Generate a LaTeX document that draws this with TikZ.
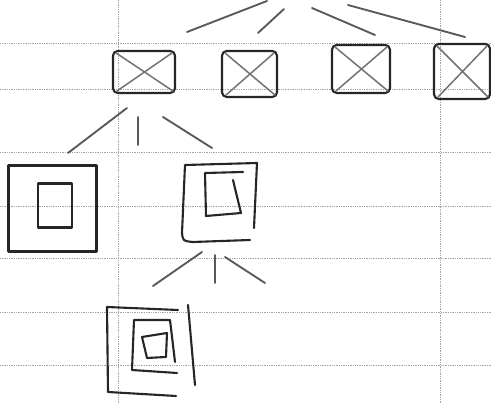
\documentclass[tikz,border=0pt]{standalone}
\usepackage{tikz}
\usetikzlibrary{positioning, calc}
\newcommand{\px}{0.03cm}
\tikzset{
  pen/.style={draw=black!85, line width=1.8pt, line cap=round, line join=round},
  xbox/.style={pen, rounded corners=4pt, inner sep=0pt},
  sqbox/.style={pen, inner sep=0pt},
  cross/.style={draw=black!55, line width=1.3pt, line cap=round},
  edge/.style={draw=black!65, line width=1.6pt, line cap=round},
  gridline/.style={draw=black!35, densely dotted, line width=0.5pt},
  every node/.style={font=\small}
}

\begin{document}
\begin{tikzpicture}[x=\px, y=-\px]
    \useasboundingbox (0,0) rectangle (491,404);
    % graph paper
    \foreach \gy in {43,89,152,206,258,312,365}
        \draw[gridline] (0,\gy) -- (491,\gy);
    \foreach \gx in {118,440}
        \draw[gridline] (\gx,0) -- (\gx,404);

    % first row: crossed boxes
    \node[xbox, minimum width=62*\px, minimum height=42*\px] (x1) at (144,72) {};
    \node[xbox, minimum width=55*\px, minimum height=46*\px] (x2) at (249.5,74) {};
    \node[xbox, minimum width=58*\px, minimum height=48*\px] (x3) at (361,69) {};
    \node[xbox, minimum width=56*\px, minimum height=55*\px] (x4) at (462,71.5) {};
    \foreach \b in {x1,x2,x3,x4} {
        \draw[cross] ($(\b.north west)+(4,3)$) -- ($(\b.south east)+(-3,-3)$);
        \draw[cross] ($(\b.north east)+(-4,3)$) -- ($(\b.south west)+(5,-3)$);
    }

    % strokes from the top
    \coordinate (r1s) at (267,1);   \coordinate (r1e) at (187,32);
    \coordinate (r2s) at (284,9);   \coordinate (r2e) at (258,33);
    \coordinate (r3s) at (312,8);   \coordinate (r3e) at (375,35);
    \coordinate (r4s) at (348,5);   \coordinate (r4e) at (465,37);
    \foreach \r in {r1,r2,r3,r4}
        \draw[edge] (\r s) -- (\r e);

    % strokes below the first box
    \coordinate (s1a) at (127,108); \coordinate (e1a) at (68,153);
    \coordinate (s1b) at (138,117); \coordinate (e1b) at (138,145);
    \coordinate (s1c) at (163,117); \coordinate (e1c) at (212,148);
    \foreach \s in {1a,1b,1c}
        \draw[edge] (s\s) -- (e\s);

    % second row, left: square in square
    \node[sqbox, minimum width=88*\px, minimum height=86*\px] (a) at (52.5,208.5) {};
    \node[sqbox, minimum width=34*\px, minimum height=44*\px] (ai) at (55,205.5) {};

    % second row, right: open squares
    \draw[pen] (254,228) -- (257,163) -- (185,165) -- (182,233)
        .. controls (183,241) .. (193,242) -- (250,240);
    \draw[pen] (233,180) -- (241,213) -- (206,216) -- (205,173) -- (243,172);

    % strokes below the right square
    \coordinate (s2a) at (202,252); \coordinate (e2a) at (153,286);
    \coordinate (s2b) at (215,255); \coordinate (e2b) at (215,283);
    \coordinate (s2c) at (225,257); \coordinate (e2c) at (265,283);
    \foreach \s in {2a,2b,2c}
        \draw[edge] (s\s) -- (e\s);

    % third row: three nested squares
    \draw[pen] (178,310) -- (107,307) -- (108,392) -- (176,396);
    \draw[pen] (188,305) -- (195,385);
    \draw[pen] (175,362) -- (170,320) -- (134,320) -- (132,370) -- (177,373);
    \draw[pen] (142,337) -- (167,333) -- (166,357) -- (147,358) -- cycle;
\end{tikzpicture}
\end{document}
